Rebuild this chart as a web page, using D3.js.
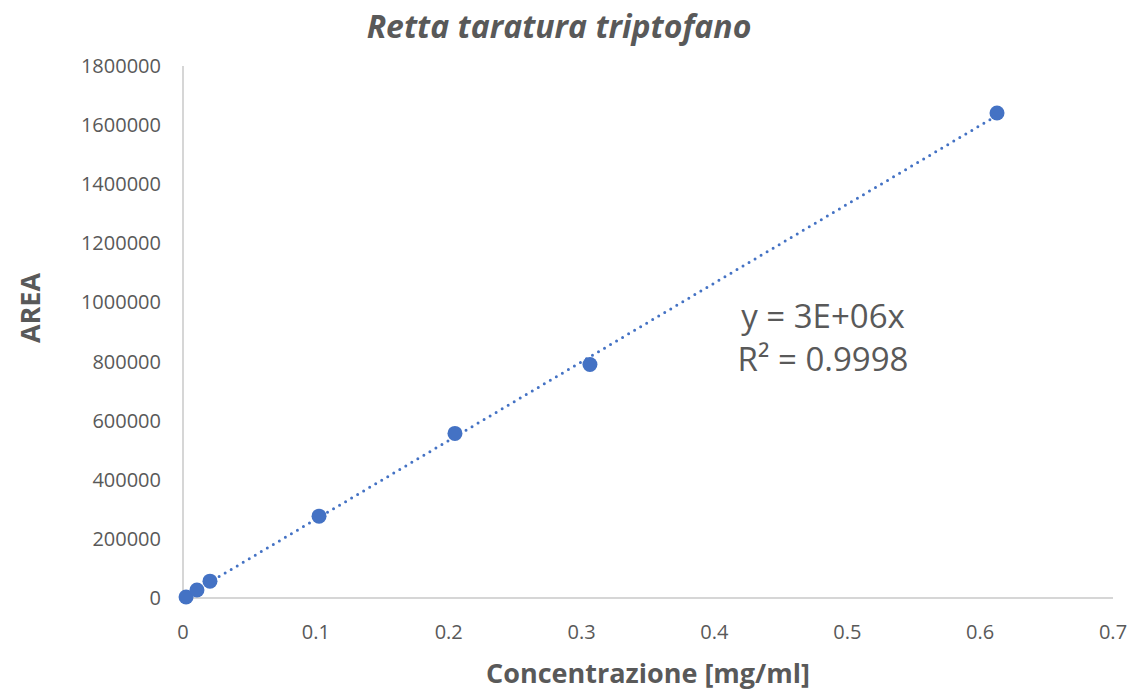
<!DOCTYPE html>
<html lang="it">
<head>
<meta charset="UTF-8">
<title>Retta taratura triptofano</title>
<style>
    body, html { margin: 0; padding: 0; background: #fff; }
    svg text { font-family: "Open Sans", "Noto Sans", sans-serif; fill: #595959; }
</style>
<script src="https://d3js.org/d3.v7.min.js"></script>
</head>
<body>
<div id="chart"></div>
<script>
    // data
    const concentrations = [0.0023, 0.0105, 0.0203, 0.1024, 0.2047, 0.3063, 0.6127];
    const areas = [3400, 27000, 57000, 277000, 557000, 790000, 1641000];
    const xTicks = [0, 0.1, 0.2, 0.3, 0.4, 0.5, 0.6, 0.7];
    const yTicks = [0, 200000, 400000, 600000, 800000, 1000000, 1200000, 1400000, 1600000, 1800000];
    const equationLines = ["y = 3E+06x", "R² = 0.9998"];

    const width = 1134, height = 691;
    const margin = {left: 183, right: 21, top: 66, bottom: 93};

    const svg = d3.select("#chart").append("svg")
        .attr("width", width)
        .attr("height", height);

    const x = d3.scaleLinear().domain([0, 0.7]).range([margin.left, width - margin.right]);
    const y = d3.scaleLinear().domain([0, 1800000]).range([height - margin.bottom, margin.top]);

    // axis lines
    svg.append("line")
        .attr("x1", x(0)).attr("x2", x(0.7))
        .attr("y1", y(0)).attr("y2", y(0))
        .attr("stroke", "#c8c8c8").attr("stroke-width", 1.5);
    svg.append("line")
        .attr("x1", x(0)).attr("x2", x(0))
        .attr("y1", y(0)).attr("y2", y(1800000))
        .attr("stroke", "#c8c8c8").attr("stroke-width", 1.5);

    // tick labels
    svg.selectAll(".xt").data(xTicks).enter().append("text")
        .attr("x", d => x(d)).attr("y", y(0) + 41)
        .attr("text-anchor", "middle")
        .style("font-size", "20px")
        .text(d => d);
    svg.selectAll(".yt").data(yTicks).enter().append("text")
        .attr("x", x(0) - 22).attr("y", d => y(d) + 7)
        .attr("text-anchor", "end")
        .style("font-size", "20px")
        .text(d => d);

    // trendline through origin (least squares)
    const sxy = d3.sum(concentrations, (c, i) => c * areas[i]);
    const sxx = d3.sum(concentrations, c => c * c);
    const slope = sxy / sxx;
    const xMax = d3.max(concentrations);
    svg.append("line")
        .attr("x1", x(0)).attr("y1", y(0))
        .attr("x2", x(xMax)).attr("y2", y(slope * xMax))
        .attr("stroke", "#4472c4")
        .attr("stroke-width", 3)
        .attr("stroke-linecap", "round")
        .attr("stroke-dasharray", "0 7");

    // points
    svg.selectAll("circle").data(concentrations).enter().append("circle")
        .attr("cx", d => x(d))
        .attr("cy", (d, i) => y(areas[i]))
        .attr("r", 7.5)
        .attr("fill", "#4472c4");

    // equation
    const eq = svg.append("text")
        .attr("x", 823).attr("y", 328)
        .attr("text-anchor", "middle")
        .style("font-size", "33px");
    equationLines.forEach((t, i) => {
        eq.append("tspan").attr("x", 823).attr("dy", i === 0 ? 0 : 43).text(t);
    });

    // titles
    svg.append("text")
        .attr("x", 559).attr("y", 38)
        .attr("text-anchor", "middle")
        .style("font-size", "32px")
        .style("font-weight", "bold")
        .style("font-style", "italic")
        .text("Retta taratura triptofano");

    svg.append("text")
        .attr("x", 648).attr("y", 683)
        .attr("text-anchor", "middle")
        .style("font-size", "27px")
        .style("font-weight", "bold")
        .text("Concentrazione [mg/ml]");

    svg.append("text")
        .attr("transform", "translate(40, 308) rotate(-90)")
        .attr("text-anchor", "middle")
        .style("font-size", "27px")
        .style("font-weight", "bold")
        .text("AREA");
</script>
</body>
</html>
